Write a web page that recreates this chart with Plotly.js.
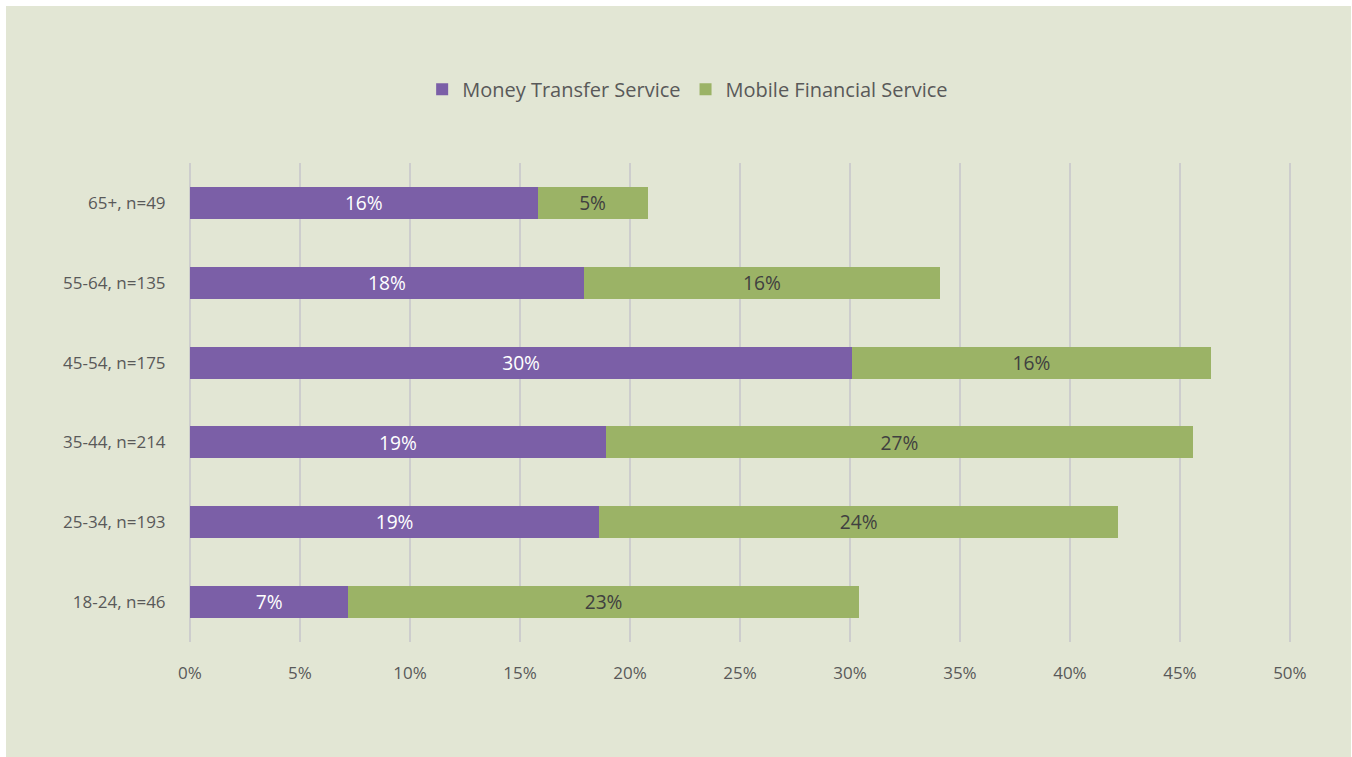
<!DOCTYPE html>
<html>
<head>
<meta charset="utf-8">
<script src="https://cdn.plot.ly/plotly-3.0.1.min.js"></script>
<style>
html,body{margin:0;padding:0;background:#ffffff;overflow:hidden;}
#chart{position:absolute;left:6px;top:6px;width:1345px;height:751px;}
</style>
</head>
<body>
<div id="chart"></div>
<script>
const categories = ['18-24, n=46','25-34, n=193','35-44, n=214','45-54, n=175','55-64, n=135','65+, n=49'];
const moneyTransfer = [7.2, 18.6, 18.9, 30.1, 17.9, 15.8];
const mobileFinancial = [23.2, 23.6, 26.7, 16.3, 16.2, 5.0];
const seriesNames = ['Money Transfer Service', 'Mobile Financial Service'];
const xTicks = [0,5,10,15,20,25,30,35,40,45,50];

const FONT = '"Open Sans", "Noto Sans", sans-serif';
const traces = [
  {
    type:'bar', orientation:'h', name:seriesNames[0],
    y:categories, x:moneyTransfer,
    marker:{color:'#7b5fa7'}, width:0.4,
    texttemplate:'%{x:.0f}%', textposition:'inside', insidetextanchor:'middle',
    textfont:{family:FONT, size:20, color:'#ffffff'},
    hoverinfo:'skip'
  },
  {
    type:'bar', orientation:'h', name:seriesNames[1],
    y:categories, x:mobileFinancial,
    marker:{color:'#9bb366'}, width:0.4,
    texttemplate:'%{x:.0f}%', textposition:'inside', insidetextanchor:'middle',
    textfont:{family:FONT, size:20, color:'#404040'},
    hoverinfo:'skip'
  }
];

const layout = {
  width:1345, height:751,
  paper_bgcolor:'#e2e6d4', plot_bgcolor:'rgba(0,0,0,0)',
  barmode:'stack',
  margin:{l:184, r:60, t:157, b:115},
  font:{family:FONT, color:'#595959', size:17},
  showlegend:true,
  legend:{orientation:'h', x:0.452, xanchor:'center', y:1.154, yanchor:'middle',
          font:{family:FONT, size:20, color:'#595959'}, bgcolor:'rgba(0,0,0,0)', traceorder:'normal'},
  xaxis:{range:[0,50.05], tickvals:xTicks, ticktext:xTicks.map(v=>v+'%'),
         showgrid:true, gridcolor:'#cdcdcd', gridwidth:1.5,
         zeroline:true, zerolinecolor:'#cdcdcd', zerolinewidth:1.5,
         ticks:'outside', ticklen:16, tickcolor:'rgba(0,0,0,0)',
         tickfont:{family:FONT, size:17, color:'#595959'}, showline:false, fixedrange:true},
  yaxis:{type:'category', categoryorder:'array', categoryarray:categories,
         showgrid:false, zeroline:false, showline:false,
         ticks:'outside', ticklen:20, tickcolor:'rgba(0,0,0,0)',
         tickfont:{family:FONT, size:17, color:'#595959'}, fixedrange:true},
  hovermode:false
};

Plotly.newPlot('chart', traces, layout, {displayModeBar:false, staticPlot:true});
</script>
</body>
</html>
